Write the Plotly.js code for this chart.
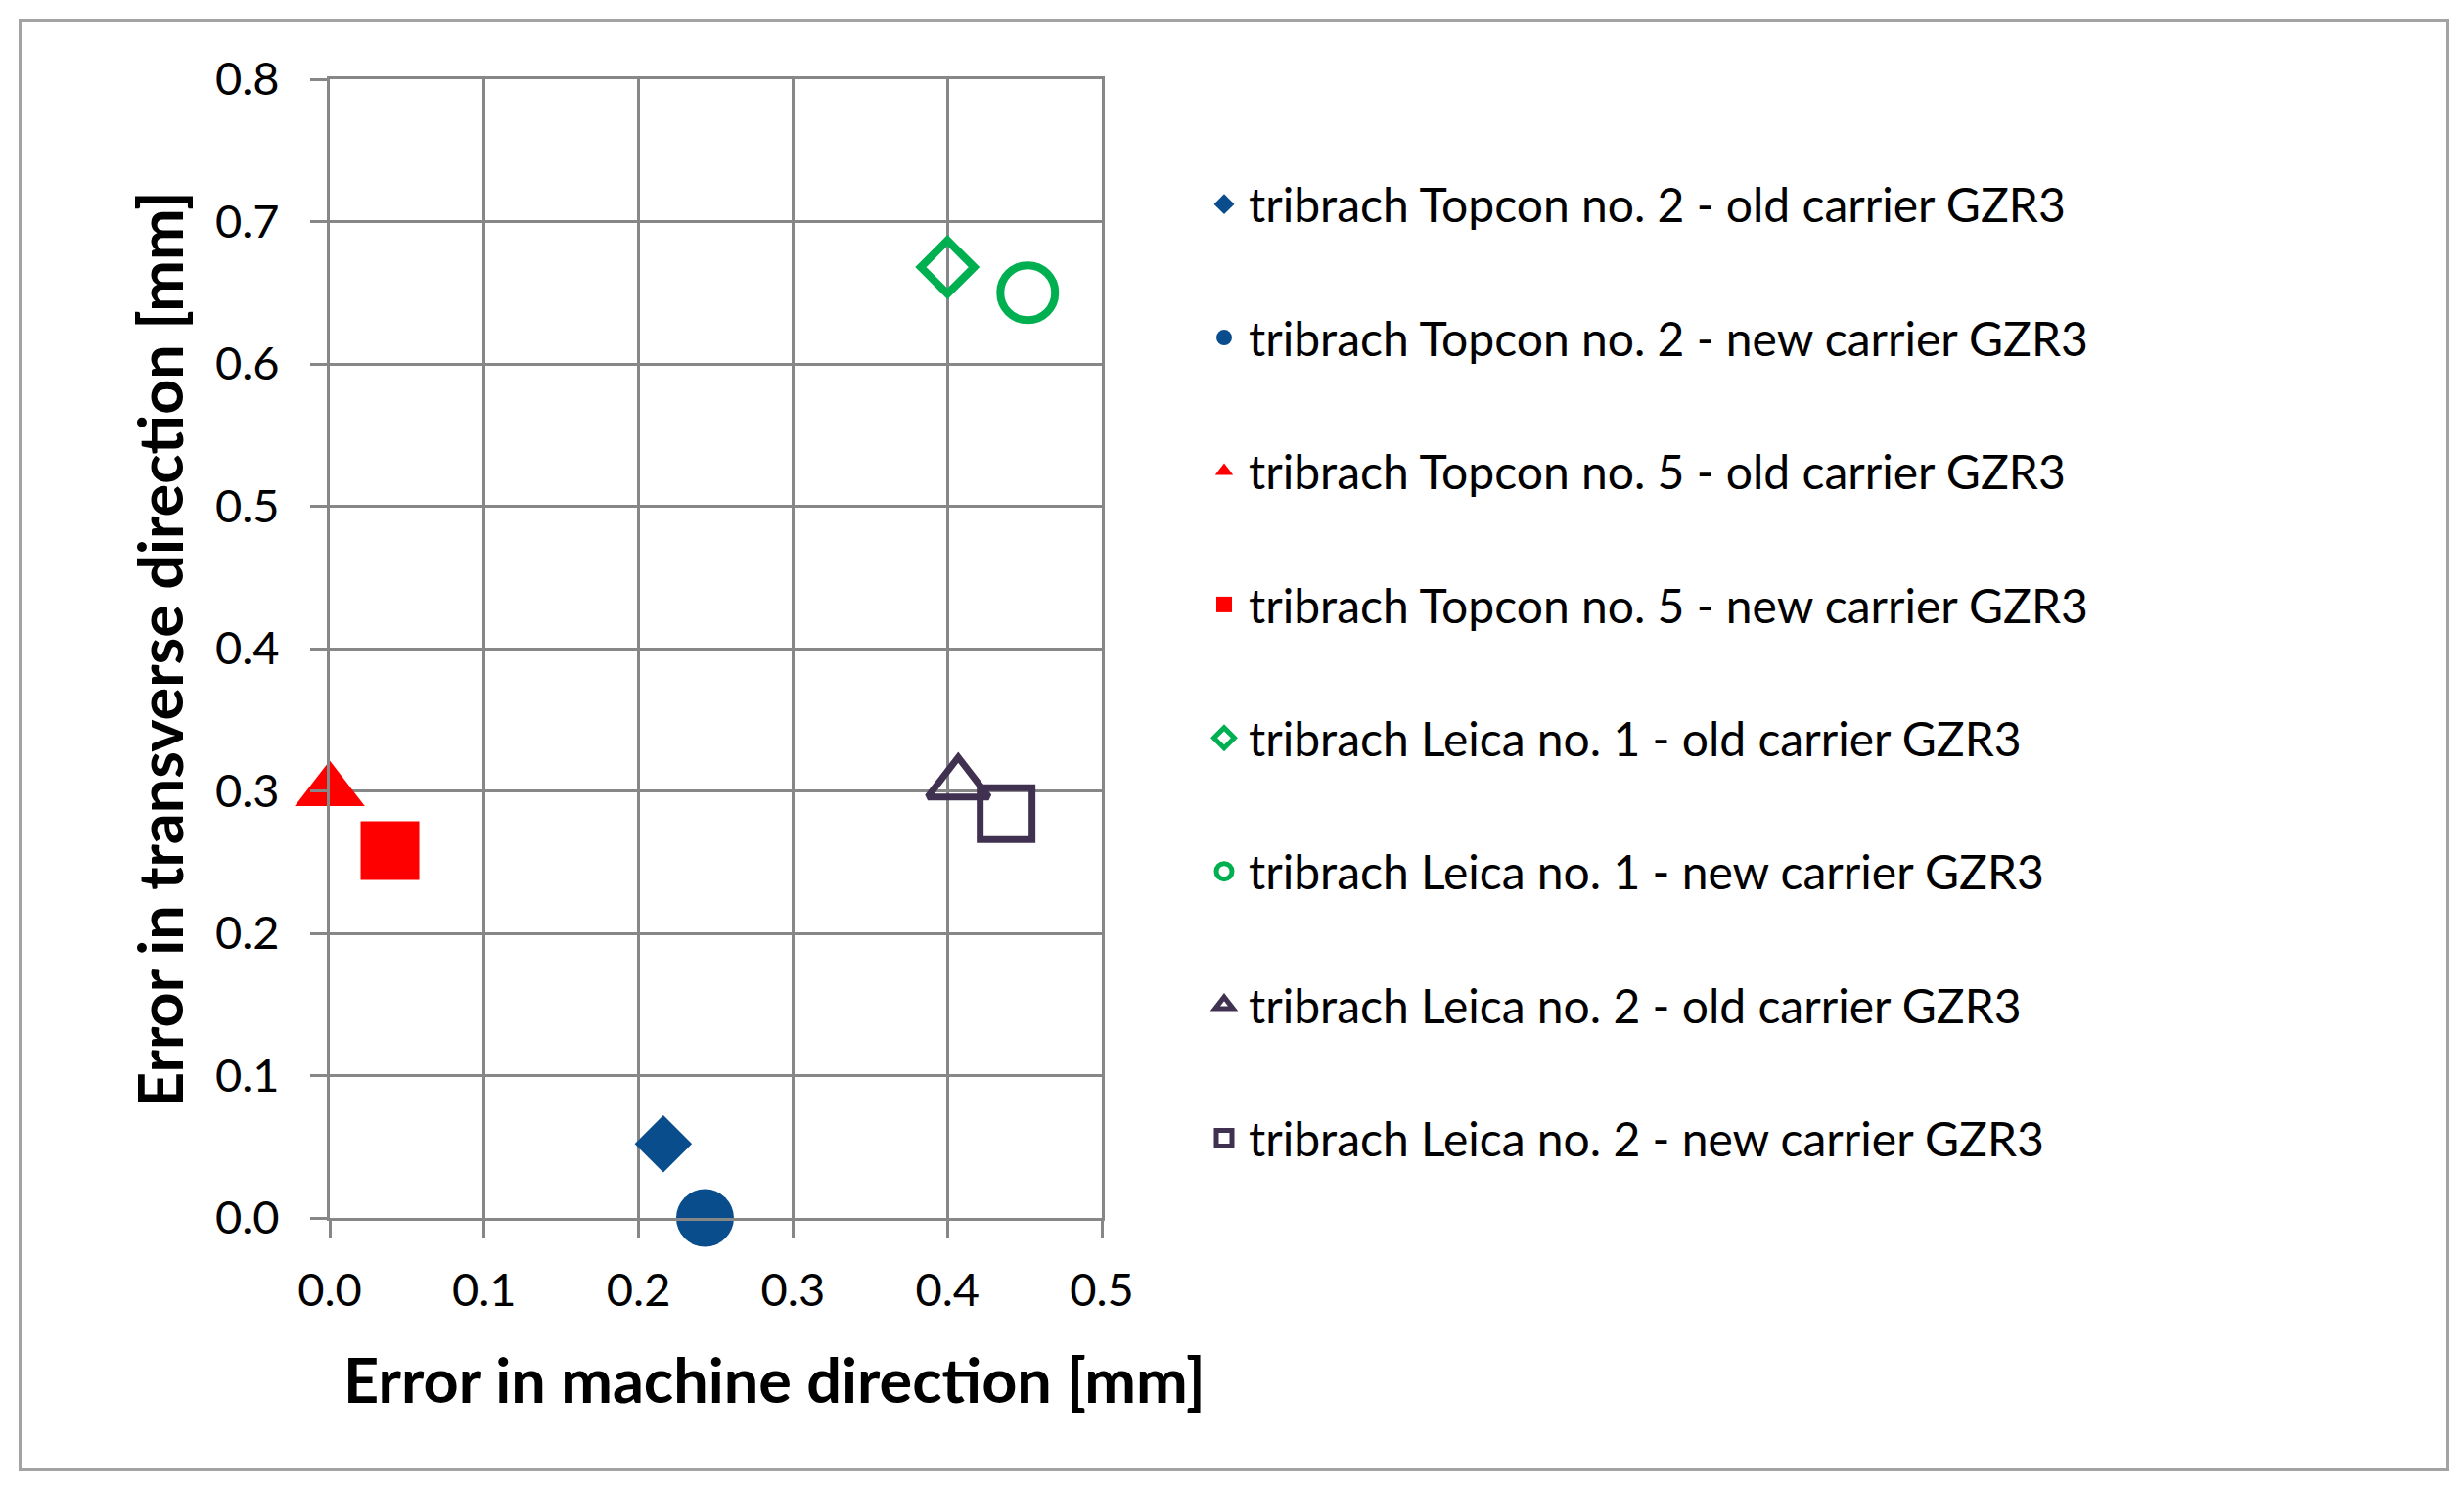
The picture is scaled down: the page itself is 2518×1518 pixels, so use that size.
<!DOCTYPE html>
<html>
<head>
<meta charset="utf-8">
<script src="https://cdn.plot.ly/plotly-3.0.1.min.js"></script>
<style>
  html, body { margin: 0; padding: 0; background: #ffffff; }
  #wrap { position: relative; width: 2518px; height: 1518px; }
  #chart { position: absolute; left: 0; top: 0; width: 2518px; height: 1518px; }
  #frame { position: absolute; left: 19px; top: 19px; width: 2478px; height: 1479px;
           border: 3px solid #a3a3a3; pointer-events: none; }
</style>
</head>
<body>
<div id="wrap">
  <div id="chart"></div>
  <div id="frame"></div>
</div>
<script>
// ---- data ----
const seriesNames = [
  "tribrach Topcon no. 2 - old carrier GZR3",
  "tribrach Topcon no. 2 - new carrier GZR3",
  "tribrach Topcon no. 5 - old carrier GZR3",
  "tribrach Topcon no. 5 - new carrier GZR3",
  "tribrach Leica no. 1 - old carrier GZR3",
  "tribrach Leica no. 1 - new carrier GZR3",
  "tribrach Leica no. 2 - old carrier GZR3",
  "tribrach Leica no. 2 - new carrier GZR3"
];
const machineError    = [0.216, 0.243, 0.000, 0.039, 0.400, 0.452, 0.407, 0.438];
const transverseError = [0.052, 0.000, 0.300, 0.258, 0.668, 0.650, 0.305, 0.284];
const xTickVals  = [0.0, 0.1, 0.2, 0.3, 0.4, 0.5];
const xTickText  = ["0.0", "0.1", "0.2", "0.3", "0.4", "0.5"];
const yTickVals  = [0.0, 0.1, 0.2, 0.3, 0.4, 0.5, 0.6, 0.7, 0.8];
const yTickText  = ["0.0", "0.1", "0.2", "0.3", "0.4", "0.5", "0.6", "0.7", "0.8"];
const xTitle = "Error in machine direction [mm]";
const yTitle = "Error in transverse direction [mm]";

// ---- styles ----
const BLUE = "#0a4d8c", RED = "#ff0000", GREEN = "#00b050", PURPLE = "#403151";
const markerStyles = [
  {symbol: "diamond",       size: 45, color: BLUE,   line: {width: 0}},
  {symbol: "circle",        size: 59, color: BLUE,   line: {width: 0}},
  {symbol: "triangle-up",   size: 62, color: RED,    line: {width: 0}},
  {symbol: "square",        size: 60, color: RED,    line: {width: 0}},
  {symbol: "diamond-open",  size: 42, color: GREEN,  line: {width: 8, color: GREEN}},
  {symbol: "circle-open",   size: 56, color: GREEN,  line: {width: 8, color: GREEN}},
  {symbol: "triangle-up-open", size: 54, color: PURPLE, line: {width: 7, color: PURPLE}},
  {symbol: "square-open",   size: 53, color: PURPLE, line: {width: 7, color: PURPLE}}
];

const traces = seriesNames.map((name, i) => ({
  type: "scatter",
  mode: "markers",
  name: name,
  legendgroup: "g" + i,
  x: [machineError[i]],
  y: [transverseError[i]],
  marker: markerStyles[i],
  cliponaxis: false,
  hoverinfo: "name+x+y"
}));

// plot-area pixel geometry
const W = 2518, H = 1518;
const L = 337, R = 1126, T = 81, B = 1245;
const pw = R - L, ph = B - T;
const px2x = p => (p - L) / pw;
const px2y = p => (B - p) / ph;

const FONT = "Lato, 'Open Sans', sans-serif";
const GRID = "#878787";

const layout = {
  width: W, height: H,
  margin: {l: L, r: W - R, t: T, b: H - B, pad: 0},
  paper_bgcolor: "#ffffff",
  plot_bgcolor: "#ffffff",
  font: {family: FONT, color: "#000000", size: 47},
  showlegend: true,
  legend: {
    x: px2x(1226), xanchor: "left",
    y: px2y(171), yanchor: "top",
    font: {family: FONT, size: 48, color: "#000000"},
    traceorder: "grouped",
    tracegroupgap: 71,
    itemwidth: 40,
    bgcolor: "rgba(0,0,0,0)",
    borderwidth: 0
  },
  xaxis: {
    range: [0, 0.5],
    tickvals: xTickVals, ticktext: xTickText,
    showgrid: true, gridcolor: GRID, gridwidth: 3,
    zeroline: false,
    showline: true, linecolor: GRID, linewidth: 3, mirror: true,
    ticks: "outside", ticklen: 17, tickwidth: 3, tickcolor: GRID,
    ticklabelstandoff: 14,
    tickfont: {family: FONT, size: 47, color: "#000000"},
    fixedrange: true
  },
  yaxis: {
    range: [0, 0.8],
    tickvals: yTickVals, ticktext: yTickText,
    showgrid: true, gridcolor: GRID, gridwidth: 3,
    zeroline: false,
    showline: true, linecolor: GRID, linewidth: 3, mirror: true,
    ticks: "outside", ticklen: 17, tickwidth: 3, tickcolor: GRID,
    ticklabelstandoff: 22,
    tickfont: {family: FONT, size: 47, color: "#000000"},
    fixedrange: true
  },
  annotations: [
    {text: "<b>" + xTitle + "</b>", xref: "paper", yref: "paper",
     x: px2x(791), y: px2y(1409), xanchor: "center", yanchor: "middle",
     showarrow: false, font: {family: FONT, size: 63, color: "#000000"}},
    {text: "<b>" + yTitle + "</b>", xref: "paper", yref: "paper",
     x: px2x(162), y: px2y(664), xanchor: "center", yanchor: "middle",
     textangle: -90,
     showarrow: false, font: {family: FONT, size: 63, color: "#000000"}}
  ]
};

Plotly.newPlot("chart", traces, layout, {displayModeBar: false, staticPlot: true});
</script>
</body>
</html>
